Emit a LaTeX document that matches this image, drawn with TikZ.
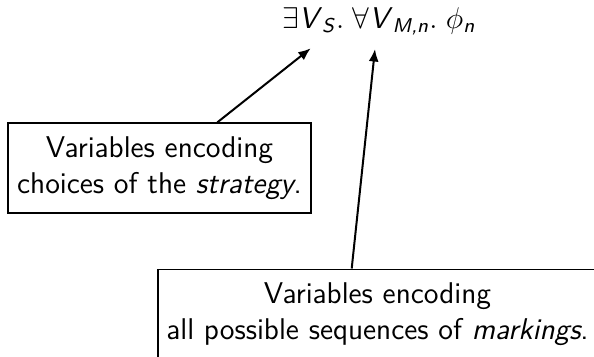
\documentclass[tikz,border=0pt]{standalone}
\usepackage{amsmath}
\usetikzlibrary{calc,arrows.meta}
\newcommand\mv[1]{\textsf{\textit{#1}}}
\begin{document}
\begin{tikzpicture}[x=0.4pt,y=-0.4pt,
  every node/.style={font=\fontsize{12}{14.4}\selectfont\sffamily},
  box/.style={draw,line width=0.5pt,align=center,inner xsep=0pt,inner ysep=0pt,minimum height=36pt},
  arr/.style={-{Latex[length=5pt,width=4pt]},line width=0.8pt}]
\clip (0,0) rectangle (594,356);
\fill[white] (0,0) rectangle (594,356);
\node[anchor=base] (f) at (378.8,28) {$\exists\mv{V}_{\mv{S}}.\;\forall\mv{V}_{\mv{M,n}}.\;\phi_{\mv{n}}$};
\node[box,minimum width=121.2pt] (tb) at (159.5,168) {Variables encoding\\choices of the \textit{strategy}.};
\node[box,minimum width=175.6pt,anchor=north] (bb) at (377.5,268.5) {Variables encoding\\all possible sequences of \textit{markings}.};
\coordinate (t1) at (310.7,48.3);
\coordinate (t2) at (375,49);
\draw[arr] ($(tb.north)+(57.8,0)$) -- (t1);
\draw[arr] ($(bb.north)+(-25.8,0)$) -- (t2);
\end{tikzpicture}
\end{document}
